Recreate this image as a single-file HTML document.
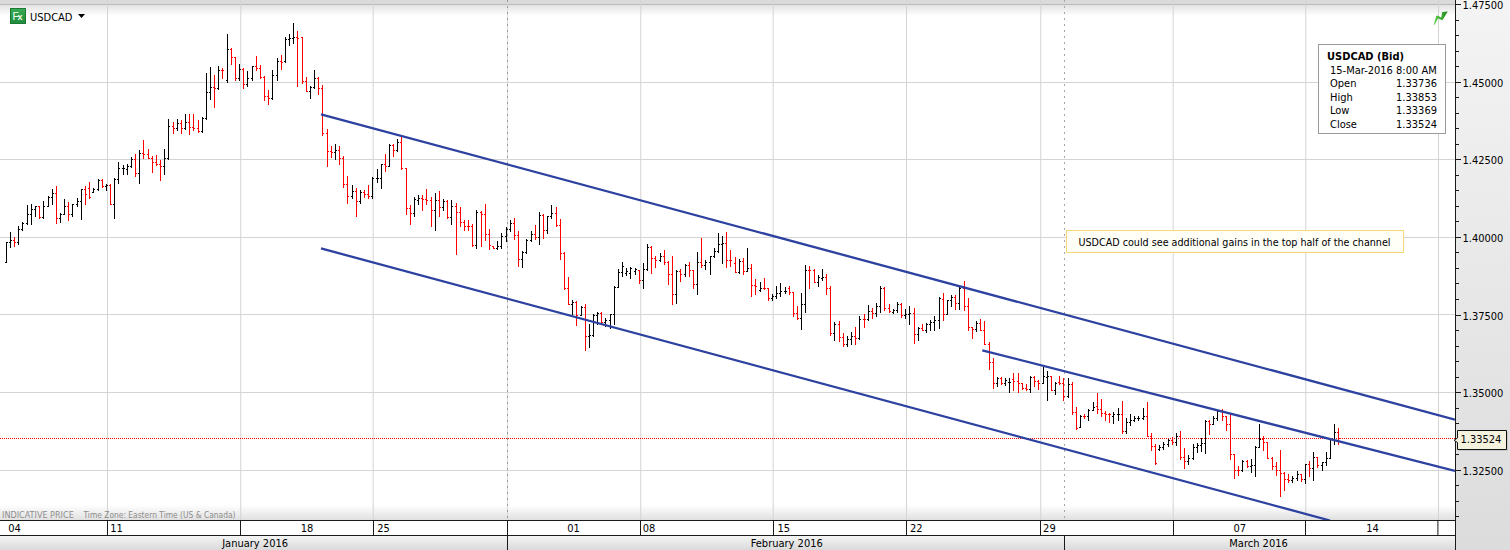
<!DOCTYPE html><html><head><meta charset="utf-8"><title>USDCAD</title><style>html,body{margin:0;padding:0;background:#fff;overflow:hidden;}svg{display:block;}</style></head><body><svg width="1510" height="550" viewBox="0 0 1510 550"><defs><linearGradient id="gtop" x1="0" y1="0" x2="0" y2="1"><stop offset="0" stop-color="#e3e3e3"/><stop offset="1" stop-color="#ffffff"/></linearGradient><linearGradient id="gbot" x1="0" y1="0" x2="0" y2="1"><stop offset="0" stop-color="#ffffff"/><stop offset="1" stop-color="#e0e0e0"/></linearGradient><linearGradient id="gaxis" x1="0" y1="0" x2="0" y2="1"><stop offset="0" stop-color="#f4f4f4"/><stop offset="1" stop-color="#dcdcdc"/></linearGradient><linearGradient id="gmonth" x1="0" y1="0" x2="0" y2="1"><stop offset="0" stop-color="#f4f4f4"/><stop offset="1" stop-color="#dadada"/></linearGradient><linearGradient id="gfx" x1="0" y1="0" x2="0" y2="1"><stop offset="0" stop-color="#3aab55"/><stop offset="1" stop-color="#1f8a3c"/></linearGradient><linearGradient id="gbolt" x1="0" y1="0" x2="1" y2="0"><stop offset="0" stop-color="#5fd04a"/><stop offset="1" stop-color="#1e8a1e"/></linearGradient><clipPath id="chartclip"><rect x="0" y="0" width="1455" height="520"/></clipPath></defs><rect x="0" y="0" width="1510" height="550" fill="#ffffff"/><rect x="0" y="0" width="1455" height="4" fill="#dadada"/><rect x="0" y="5" width="1455" height="11" fill="url(#gtop)"/><rect x="0" y="505" width="1455" height="15" fill="url(#gbot)"/><rect x="0" y="4" width="1455" height="1" fill="#b9b9b9"/><rect x="0" y="82" width="1455" height="1" fill="#d4d4d4"/><rect x="0" y="159" width="1455" height="1" fill="#d4d4d4"/><rect x="0" y="237" width="1455" height="1" fill="#d4d4d4"/><rect x="0" y="314" width="1455" height="1" fill="#d4d4d4"/><rect x="0" y="392" width="1455" height="1" fill="#d4d4d4"/><rect x="0" y="470" width="1455" height="1" fill="#d4d4d4"/><rect x="107" y="0" width="1" height="520" fill="#d4d4d4"/><rect x="240.25" y="0" width="1" height="520" fill="#d4d4d4"/><rect x="372.7" y="0" width="1" height="520" fill="#d4d4d4"/><rect x="640.25" y="0" width="1" height="520" fill="#d4d4d4"/><rect x="772.7" y="0" width="1" height="520" fill="#d4d4d4"/><rect x="906" y="0" width="1" height="520" fill="#d4d4d4"/><rect x="1040.25" y="0" width="1" height="520" fill="#d4d4d4"/><rect x="1172.7" y="0" width="1" height="520" fill="#d4d4d4"/><rect x="1305.25" y="0" width="1" height="520" fill="#d4d4d4"/><rect x="1438" y="0" width="1" height="520" fill="#d4d4d4"/><rect x="507" y="0" width="1" height="520" fill="#dadada"/><line x1="507.5" y1="0" x2="507.5" y2="520" stroke="#999999" stroke-width="1" stroke-dasharray="2 4"/><line x1="1064.5" y1="0" x2="1064.5" y2="520" stroke="#a6a6a6" stroke-width="1" stroke-dasharray="2 4"/><line x1="0" y1="438.5" x2="1455" y2="438.5" stroke="#ff0000" stroke-width="1" stroke-dasharray="1 1"/><path d="M6 242h1v21h-1z M5 262h1v1h-1z M7 242h1v1h-1z M10 232h1v16h-1z M9 242h1v1h-1z M11 240h1v1h-1z M18 226h1v19h-1z M17 242h1v1h-1z M19 229h1v1h-1z M22 222h1v9h-1z M21 229h1v1h-1z M23 223h1v1h-1z M27 205h1v20h-1z M26 223h1v1h-1z M28 214h1v1h-1z M31 204h1v21h-1z M30 214h1v1h-1z M32 209h1v1h-1z M35 206h1v11h-1z M34 209h1v1h-1z M36 206h1v1h-1z M43 201h1v18h-1z M42 217h1v1h-1z M44 206h1v1h-1z M48 196h1v11h-1z M47 206h1v1h-1z M49 197h1v1h-1z M52 189h1v16h-1z M51 197h1v1h-1z M53 193h1v1h-1z M60 213h1v10h-1z M59 218h1v1h-1z M61 214h1v1h-1z M64 199h1v16h-1z M63 214h1v1h-1z M65 206h1v1h-1z M72 204h1v13h-1z M71 214h1v1h-1z M73 204h1v1h-1z M77 198h1v9h-1z M76 204h1v1h-1z M78 201h1v1h-1z M81 189h1v31h-1z M80 201h1v1h-1z M82 189h1v1h-1z M93 188h1v5h-1z M92 192h1v1h-1z M94 189h1v1h-1z M98 179h1v12h-1z M97 189h1v1h-1z M99 180h1v1h-1z M106 184h1v7h-1z M105 186h1v1h-1z M107 185h1v1h-1z M114 178h1v41h-1z M113 204h1v1h-1z M115 179h1v1h-1z M118 162h1v22h-1z M117 179h1v1h-1z M119 168h1v1h-1z M123 165h1v10h-1z M122 168h1v1h-1z M124 168h1v1h-1z M127 164h1v11h-1z M126 169h1v1h-1z M128 166h1v1h-1z M131 157h1v11h-1z M130 166h1v1h-1z M132 159h1v1h-1z M139 150h1v34h-1z M138 173h1v1h-1z M140 153h1v1h-1z M164 149h1v26h-1z M163 166h1v1h-1z M165 158h1v1h-1z M168 119h1v41h-1z M167 158h1v1h-1z M169 126h1v1h-1z M177 119h1v12h-1z M176 128h1v1h-1z M178 123h1v1h-1z M185 114h1v16h-1z M184 128h1v1h-1z M186 122h1v1h-1z M202 117h1v16h-1z M201 131h1v1h-1z M203 118h1v1h-1z M206 73h1v47h-1z M205 118h1v1h-1z M207 92h1v1h-1z M210 67h1v33h-1z M209 92h1v1h-1z M211 87h1v1h-1z M218 66h1v24h-1z M217 88h1v1h-1z M219 70h1v1h-1z M227 34h1v49h-1z M226 80h1v1h-1z M228 49h1v1h-1z M239 64h1v17h-1z M238 78h1v1h-1z M240 69h1v1h-1z M247 71h1v16h-1z M246 84h1v1h-1z M248 78h1v1h-1z M252 66h1v15h-1z M251 78h1v1h-1z M253 66h1v1h-1z M272 70h1v30h-1z M271 98h1v1h-1z M273 75h1v1h-1z M277 58h1v23h-1z M276 75h1v1h-1z M278 61h1v1h-1z M285 37h1v26h-1z M284 61h1v1h-1z M286 39h1v1h-1z M289 34h1v12h-1z M288 39h1v1h-1z M290 38h1v1h-1z M293 23h1v21h-1z M292 38h1v1h-1z M294 37h1v1h-1z M310 86h1v13h-1z M309 91h1v1h-1z M311 87h1v1h-1z M314 70h1v19h-1z M313 87h1v1h-1z M315 78h1v1h-1z M335 144h1v16h-1z M334 152h1v1h-1z M336 150h1v1h-1z M352 185h1v14h-1z M351 196h1v1h-1z M353 191h1v1h-1z M360 190h1v14h-1z M359 201h1v1h-1z M361 192h1v1h-1z M372 177h1v22h-1z M371 196h1v1h-1z M373 178h1v1h-1z M377 169h1v14h-1z M376 178h1v1h-1z M378 178h1v1h-1z M381 164h1v25h-1z M380 178h1v1h-1z M382 164h1v1h-1z M389 144h1v23h-1z M388 166h1v1h-1z M390 145h1v1h-1z M397 139h1v13h-1z M396 150h1v1h-1z M398 142h1v1h-1z M414 197h1v20h-1z M413 213h1v1h-1z M415 199h1v1h-1z M418 195h1v10h-1z M417 200h1v1h-1z M419 198h1v1h-1z M435 193h1v38h-1z M434 210h1v1h-1z M436 200h1v1h-1z M443 199h1v12h-1z M442 207h1v1h-1z M444 201h1v1h-1z M451 200h1v25h-1z M450 217h1v1h-1z M452 206h1v1h-1z M476 210h1v39h-1z M475 245h1v1h-1z M477 212h1v1h-1z M497 241h1v9h-1z M496 248h1v1h-1z M498 246h1v1h-1z M501 233h1v16h-1z M500 246h1v1h-1z M502 236h1v1h-1z M506 227h1v15h-1z M505 236h1v1h-1z M507 229h1v1h-1z M510 220h1v12h-1z M509 229h1v1h-1z M511 223h1v1h-1z M522 251h1v17h-1z M521 259h1v1h-1z M523 252h1v1h-1z M526 239h1v15h-1z M525 252h1v1h-1z M527 240h1v1h-1z M531 231h1v11h-1z M530 240h1v1h-1z M532 234h1v1h-1z M539 212h1v33h-1z M538 237h1v1h-1z M540 215h1v1h-1z M547 216h1v18h-1z M546 230h1v1h-1z M548 216h1v1h-1z M551 205h1v14h-1z M550 216h1v1h-1z M552 213h1v1h-1z M572 300h1v15h-1z M571 304h1v1h-1z M573 302h1v1h-1z M581 306h1v10h-1z M580 315h1v1h-1z M582 307h1v1h-1z M589 324h1v24h-1z M588 336h1v1h-1z M590 335h1v1h-1z M593 314h1v23h-1z M592 335h1v1h-1z M594 315h1v1h-1z M597 312h1v13h-1z M596 315h1v1h-1z M598 313h1v1h-1z M605 318h1v9h-1z M604 322h1v1h-1z M606 320h1v1h-1z M610 314h1v15h-1z M609 320h1v1h-1z M611 314h1v1h-1z M614 286h1v39h-1z M613 314h1v1h-1z M615 287h1v1h-1z M618 269h1v19h-1z M617 287h1v1h-1z M619 272h1v1h-1z M622 262h1v15h-1z M621 272h1v1h-1z M623 266h1v1h-1z M626 268h1v8h-1z M625 273h1v1h-1z M627 271h1v1h-1z M630 267h1v12h-1z M629 273h1v1h-1z M631 268h1v1h-1z M635 268h1v7h-1z M634 271h1v1h-1z M636 269h1v1h-1z M643 263h1v26h-1z M642 280h1v1h-1z M644 269h1v1h-1z M647 244h1v27h-1z M646 269h1v1h-1z M648 247h1v1h-1z M660 253h1v9h-1z M659 260h1v1h-1z M661 256h1v1h-1z M676 270h1v34h-1z M675 294h1v1h-1z M677 271h1v1h-1z M685 264h1v13h-1z M684 274h1v1h-1z M686 265h1v1h-1z M697 252h1v43h-1z M696 284h1v1h-1z M698 262h1v1h-1z M705 260h1v10h-1z M704 265h1v1h-1z M706 262h1v1h-1z M710 256h1v19h-1z M709 262h1v1h-1z M711 256h1v1h-1z M714 248h1v10h-1z M713 256h1v1h-1z M715 251h1v1h-1z M718 233h1v20h-1z M717 251h1v1h-1z M719 244h1v1h-1z M722 236h1v28h-1z M721 244h1v1h-1z M723 243h1v1h-1z M739 259h1v15h-1z M738 272h1v1h-1z M740 261h1v1h-1z M747 248h1v24h-1z M746 271h1v1h-1z M748 268h1v1h-1z M760 282h1v10h-1z M759 290h1v1h-1z M761 288h1v1h-1z M772 294h1v7h-1z M771 298h1v1h-1z M773 296h1v1h-1z M776 286h1v13h-1z M775 296h1v1h-1z M777 293h1v1h-1z M780 283h1v14h-1z M779 293h1v1h-1z M781 291h1v1h-1z M785 287h1v7h-1z M784 291h1v1h-1z M786 291h1v1h-1z M801 293h1v37h-1z M800 318h1v1h-1z M802 304h1v1h-1z M805 265h1v48h-1z M804 304h1v1h-1z M806 270h1v1h-1z M818 275h1v12h-1z M817 282h1v1h-1z M819 277h1v1h-1z M822 269h1v12h-1z M821 278h1v1h-1z M823 277h1v1h-1z M834 322h1v19h-1z M833 333h1v1h-1z M835 324h1v1h-1z M847 336h1v11h-1z M846 344h1v1h-1z M848 339h1v1h-1z M851 332h1v13h-1z M850 339h1v1h-1z M852 336h1v1h-1z M859 316h1v24h-1z M858 338h1v1h-1z M860 319h1v1h-1z M868 305h1v16h-1z M867 319h1v1h-1z M869 311h1v1h-1z M876 303h1v14h-1z M875 313h1v1h-1z M877 306h1v1h-1z M880 286h1v27h-1z M879 306h1v1h-1z M881 288h1v1h-1z M893 309h1v5h-1z M892 312h1v1h-1z M894 310h1v1h-1z M897 302h1v11h-1z M896 310h1v1h-1z M898 304h1v1h-1z M905 309h1v10h-1z M904 315h1v1h-1z M906 314h1v1h-1z M909 306h1v19h-1z M908 314h1v1h-1z M910 313h1v1h-1z M918 327h1v14h-1z M917 334h1v1h-1z M919 328h1v1h-1z M926 323h1v10h-1z M925 330h1v1h-1z M927 324h1v1h-1z M930 320h1v11h-1z M929 324h1v1h-1z M931 322h1v1h-1z M934 316h1v15h-1z M933 322h1v1h-1z M935 320h1v1h-1z M939 297h1v32h-1z M938 320h1v1h-1z M940 298h1v1h-1z M947 300h1v15h-1z M946 314h1v1h-1z M948 300h1v1h-1z M951 295h1v12h-1z M950 300h1v1h-1z M952 297h1v1h-1z M959 287h1v23h-1z M958 303h1v1h-1z M960 288h1v1h-1z M976 321h1v11h-1z M975 329h1v1h-1z M977 323h1v1h-1z M997 377h1v10h-1z M996 383h1v1h-1z M998 378h1v1h-1z M1005 378h1v8h-1z M1004 383h1v1h-1z M1006 380h1v1h-1z M1009 378h1v15h-1z M1008 382h1v1h-1z M1010 382h1v1h-1z M1030 376h1v17h-1z M1029 389h1v1h-1z M1031 377h1v1h-1z M1043 367h1v17h-1z M1042 383h1v1h-1z M1044 376h1v1h-1z M1047 371h1v30h-1z M1046 377h1v1h-1z M1048 376h1v1h-1z M1055 382h1v13h-1z M1054 390h1v1h-1z M1056 383h1v1h-1z M1068 378h1v20h-1z M1067 396h1v1h-1z M1069 384h1v1h-1z M1080 415h1v13h-1z M1079 427h1v1h-1z M1081 416h1v1h-1z M1088 409h1v12h-1z M1087 416h1v1h-1z M1089 410h1v1h-1z M1093 402h1v9h-1z M1092 410h1v1h-1z M1094 407h1v1h-1z M1113 412h1v12h-1z M1112 416h1v1h-1z M1114 414h1v1h-1z M1118 408h1v13h-1z M1117 414h1v1h-1z M1119 414h1v1h-1z M1126 418h1v16h-1z M1125 431h1v1h-1z M1127 422h1v1h-1z M1130 414h1v12h-1z M1129 422h1v1h-1z M1131 420h1v1h-1z M1134 416h1v6h-1z M1133 420h1v1h-1z M1135 418h1v1h-1z M1138 416h1v5h-1z M1137 418h1v1h-1z M1139 418h1v1h-1z M1143 408h1v12h-1z M1142 418h1v1h-1z M1144 416h1v1h-1z M1159 445h1v6h-1z M1158 449h1v1h-1z M1160 447h1v1h-1z M1163 442h1v8h-1z M1162 447h1v1h-1z M1164 444h1v1h-1z M1168 439h1v8h-1z M1167 444h1v1h-1z M1169 440h1v1h-1z M1176 433h1v13h-1z M1175 442h1v1h-1z M1177 436h1v1h-1z M1188 455h1v10h-1z M1187 461h1v1h-1z M1189 458h1v1h-1z M1193 444h1v16h-1z M1192 458h1v1h-1z M1194 447h1v1h-1z M1197 443h1v10h-1z M1196 447h1v1h-1z M1198 445h1v1h-1z M1201 438h1v14h-1z M1200 445h1v1h-1z M1202 443h1v1h-1z M1205 420h1v34h-1z M1204 443h1v1h-1z M1206 421h1v1h-1z M1213 416h1v9h-1z M1212 424h1v1h-1z M1214 418h1v1h-1z M1217 410h1v11h-1z M1216 418h1v1h-1z M1218 411h1v1h-1z M1242 460h1v12h-1z M1241 470h1v1h-1z M1243 461h1v1h-1z M1251 459h1v14h-1z M1250 466h1v1h-1z M1252 465h1v1h-1z M1255 446h1v31h-1z M1254 465h1v1h-1z M1256 447h1v1h-1z M1259 424h1v24h-1z M1258 447h1v1h-1z M1260 439h1v1h-1z M1292 476h1v7h-1z M1291 480h1v1h-1z M1293 478h1v1h-1z M1297 471h1v10h-1z M1296 478h1v1h-1z M1298 474h1v1h-1z M1305 464h1v20h-1z M1304 479h1v1h-1z M1306 464h1v1h-1z M1313 452h1v29h-1z M1312 468h1v1h-1z M1314 457h1v1h-1z M1322 462h1v9h-1z M1321 465h1v1h-1z M1323 462h1v1h-1z M1326 452h1v14h-1z M1325 462h1v1h-1z M1327 458h1v1h-1z M1330 439h1v20h-1z M1329 458h1v1h-1z M1331 439h1v1h-1z M1334 424h1v21h-1z M1333 439h1v1h-1z M1335 432h1v1h-1z" fill="#000000" shape-rendering="crispEdges"/><path d="M14 237h1v10h-1z M13 240h1v1h-1z M15 242h1v1h-1z M39 206h1v13h-1z M38 206h1v1h-1z M40 217h1v1h-1z M56 186h1v38h-1z M55 193h1v1h-1z M57 218h1v1h-1z M68 202h1v19h-1z M67 206h1v1h-1z M69 214h1v1h-1z M85 186h1v19h-1z M84 189h1v1h-1z M86 194h1v1h-1z M89 182h1v17h-1z M88 188h1v1h-1z M90 197h1v1h-1z M102 179h1v9h-1z M101 180h1v1h-1z M103 186h1v1h-1z M110 184h1v21h-1z M109 185h1v1h-1z M111 204h1v1h-1z M135 154h1v23h-1z M134 159h1v1h-1z M136 173h1v1h-1z M143 140h1v19h-1z M142 153h1v1h-1z M144 154h1v1h-1z M148 149h1v10h-1z M147 154h1v1h-1z M149 158h1v1h-1z M152 156h1v17h-1z M151 158h1v1h-1z M153 162h1v1h-1z M156 155h1v11h-1z M155 162h1v1h-1z M157 164h1v1h-1z M160 160h1v21h-1z M159 164h1v1h-1z M161 166h1v1h-1z M173 122h1v12h-1z M172 126h1v1h-1z M174 128h1v1h-1z M181 120h1v14h-1z M180 123h1v1h-1z M182 128h1v1h-1z M189 114h1v21h-1z M188 122h1v1h-1z M190 127h1v1h-1z M193 114h1v17h-1z M192 127h1v1h-1z M194 128h1v1h-1z M198 120h1v13h-1z M197 128h1v1h-1z M199 131h1v1h-1z M214 75h1v33h-1z M213 87h1v1h-1z M215 88h1v1h-1z M222 68h1v11h-1z M221 70h1v1h-1z M223 70h1v1h-1z M231 48h1v17h-1z M230 49h1v1h-1z M232 57h1v1h-1z M235 57h1v24h-1z M234 57h1v1h-1z M236 78h1v1h-1z M243 68h1v21h-1z M242 69h1v1h-1z M244 84h1v1h-1z M256 56h1v15h-1z M255 66h1v1h-1z M257 68h1v1h-1z M260 65h1v14h-1z M259 68h1v1h-1z M261 77h1v1h-1z M264 76h1v25h-1z M263 77h1v1h-1z M265 96h1v1h-1z M268 90h1v15h-1z M267 96h1v1h-1z M269 98h1v1h-1z M281 55h1v15h-1z M280 61h1v1h-1z M282 62h1v1h-1z M297 31h1v56h-1z M296 37h1v1h-1z M298 38h1v1h-1z M302 37h1v47h-1z M301 37h1v1h-1z M303 81h1v1h-1z M306 77h1v15h-1z M305 81h1v1h-1z M307 91h1v1h-1z M318 77h1v18h-1z M317 78h1v1h-1z M319 88h1v1h-1z M322 85h1v51h-1z M321 88h1v1h-1z M323 133h1v1h-1z M327 129h1v38h-1z M326 133h1v1h-1z M328 151h1v1h-1z M331 146h1v12h-1z M330 151h1v1h-1z M332 152h1v1h-1z M339 146h1v19h-1z M338 150h1v1h-1z M340 158h1v1h-1z M343 156h1v32h-1z M342 158h1v1h-1z M344 184h1v1h-1z M347 176h1v28h-1z M346 184h1v1h-1z M348 196h1v1h-1z M356 188h1v29h-1z M355 191h1v1h-1z M357 201h1v1h-1z M364 190h1v8h-1z M363 192h1v1h-1z M365 194h1v1h-1z M368 185h1v14h-1z M367 194h1v1h-1z M369 196h1v1h-1z M385 154h1v18h-1z M384 164h1v1h-1z M386 166h1v1h-1z M393 144h1v13h-1z M392 145h1v1h-1z M394 150h1v1h-1z M401 137h1v33h-1z M400 142h1v1h-1z M402 168h1v1h-1z M406 168h1v47h-1z M405 168h1v1h-1z M407 208h1v1h-1z M410 205h1v20h-1z M409 208h1v1h-1z M411 213h1v1h-1z M422 195h1v16h-1z M421 198h1v1h-1z M423 199h1v1h-1z M426 189h1v16h-1z M425 199h1v1h-1z M427 200h1v1h-1z M431 197h1v30h-1z M430 200h1v1h-1z M432 210h1v1h-1z M439 191h1v26h-1z M438 200h1v1h-1z M440 207h1v1h-1z M447 200h1v19h-1z M446 201h1v1h-1z M448 217h1v1h-1z M456 203h1v52h-1z M455 206h1v1h-1z M457 212h1v1h-1z M460 207h1v20h-1z M459 212h1v1h-1z M461 222h1v1h-1z M464 220h1v11h-1z M463 222h1v1h-1z M465 226h1v1h-1z M468 220h1v11h-1z M467 226h1v1h-1z M469 226h1v1h-1z M472 224h1v23h-1z M471 226h1v1h-1z M473 245h1v1h-1z M481 211h1v36h-1z M480 212h1v1h-1z M482 214h1v1h-1z M485 204h1v37h-1z M484 214h1v1h-1z M486 234h1v1h-1z M489 229h1v21h-1z M488 234h1v1h-1z M490 245h1v1h-1z M493 246h1v3h-1z M492 246h1v1h-1z M494 248h1v1h-1z M514 218h1v22h-1z M513 223h1v1h-1z M515 235h1v1h-1z M518 231h1v36h-1z M517 235h1v1h-1z M519 259h1v1h-1z M535 225h1v15h-1z M534 234h1v1h-1z M536 237h1v1h-1z M543 214h1v25h-1z M542 215h1v1h-1z M544 230h1v1h-1z M556 207h1v20h-1z M555 213h1v1h-1z M557 225h1v1h-1z M560 219h1v41h-1z M559 225h1v1h-1z M561 253h1v1h-1z M564 252h1v38h-1z M563 253h1v1h-1z M565 288h1v1h-1z M568 277h1v28h-1z M567 288h1v1h-1z M569 304h1v1h-1z M576 301h1v25h-1z M575 302h1v1h-1z M577 315h1v1h-1z M585 304h1v47h-1z M584 307h1v1h-1z M586 336h1v1h-1z M601 312h1v12h-1z M600 313h1v1h-1z M602 322h1v1h-1z M639 270h1v14h-1z M638 270h1v1h-1z M640 280h1v1h-1z M651 246h1v28h-1z M650 247h1v1h-1z M652 258h1v1h-1z M655 256h1v12h-1z M654 258h1v1h-1z M656 260h1v1h-1z M664 250h1v15h-1z M663 256h1v1h-1z M665 262h1v1h-1z M668 261h1v24h-1z M667 262h1v1h-1z M669 274h1v1h-1z M672 256h1v49h-1z M671 274h1v1h-1z M673 294h1v1h-1z M680 269h1v13h-1z M679 271h1v1h-1z M681 274h1v1h-1z M689 262h1v15h-1z M688 265h1v1h-1z M690 270h1v1h-1z M693 270h1v19h-1z M692 270h1v1h-1z M694 284h1v1h-1z M701 238h1v30h-1z M700 262h1v1h-1z M702 265h1v1h-1z M726 232h1v36h-1z M725 243h1v1h-1z M727 260h1v1h-1z M730 250h1v17h-1z M729 260h1v1h-1z M731 260h1v1h-1z M735 257h1v16h-1z M734 263h1v1h-1z M736 272h1v1h-1z M743 258h1v17h-1z M742 261h1v1h-1z M744 271h1v1h-1z M751 264h1v33h-1z M750 268h1v1h-1z M752 285h1v1h-1z M755 279h1v16h-1z M754 285h1v1h-1z M756 286h1v1h-1z M764 278h1v12h-1z M763 288h1v1h-1z M765 288h1v1h-1z M768 288h1v13h-1z M767 288h1v1h-1z M769 298h1v1h-1z M789 286h1v9h-1z M788 288h1v1h-1z M790 292h1v1h-1z M793 292h1v25h-1z M792 292h1v1h-1z M794 313h1v1h-1z M797 306h1v14h-1z M796 313h1v1h-1z M798 318h1v1h-1z M809 266h1v23h-1z M808 270h1v1h-1z M810 270h1v1h-1z M814 269h1v14h-1z M813 270h1v1h-1z M815 282h1v1h-1z M826 274h1v21h-1z M825 277h1v1h-1z M827 288h1v1h-1z M830 286h1v50h-1z M829 288h1v1h-1z M831 333h1v1h-1z M839 321h1v21h-1z M838 324h1v1h-1z M840 337h1v1h-1z M843 333h1v14h-1z M842 337h1v1h-1z M844 344h1v1h-1z M855 327h1v18h-1z M854 336h1v1h-1z M856 338h1v1h-1z M864 314h1v14h-1z M863 319h1v1h-1z M865 319h1v1h-1z M872 308h1v11h-1z M871 311h1v1h-1z M873 313h1v1h-1z M884 287h1v24h-1z M883 288h1v1h-1z M885 308h1v1h-1z M889 304h1v9h-1z M888 308h1v1h-1z M890 311h1v1h-1z M901 303h1v15h-1z M900 304h1v1h-1z M902 315h1v1h-1z M914 308h1v36h-1z M913 313h1v1h-1z M915 334h1v1h-1z M922 324h1v7h-1z M921 328h1v1h-1z M923 330h1v1h-1z M943 293h1v28h-1z M942 299h1v1h-1z M944 314h1v1h-1z M955 295h1v15h-1z M954 297h1v1h-1z M956 303h1v1h-1z M964 281h1v30h-1z M963 288h1v1h-1z M965 306h1v1h-1z M968 298h1v33h-1z M967 306h1v1h-1z M969 327h1v1h-1z M972 327h1v12h-1z M971 327h1v1h-1z M973 329h1v1h-1z M980 319h1v12h-1z M979 323h1v1h-1z M981 330h1v1h-1z M984 321h1v24h-1z M983 330h1v1h-1z M985 344h1v1h-1z M989 342h1v28h-1z M988 344h1v1h-1z M990 362h1v1h-1z M993 358h1v31h-1z M992 362h1v1h-1z M994 383h1v1h-1z M1001 377h1v8h-1z M1000 378h1v1h-1z M1002 383h1v1h-1z M1013 373h1v18h-1z M1012 379h1v1h-1z M1014 381h1v1h-1z M1018 373h1v20h-1z M1017 381h1v1h-1z M1019 383h1v1h-1z M1022 383h1v7h-1z M1021 383h1v1h-1z M1023 388h1v1h-1z M1026 384h1v7h-1z M1025 388h1v1h-1z M1027 389h1v1h-1z M1034 376h1v11h-1z M1033 377h1v1h-1z M1035 381h1v1h-1z M1038 380h1v10h-1z M1037 381h1v1h-1z M1039 383h1v1h-1z M1051 376h1v15h-1z M1050 376h1v1h-1z M1052 390h1v1h-1z M1059 376h1v9h-1z M1058 382h1v1h-1z M1060 383h1v1h-1z M1063 378h1v23h-1z M1062 383h1v1h-1z M1064 396h1v1h-1z M1072 382h1v33h-1z M1071 384h1v1h-1z M1073 412h1v1h-1z M1076 407h1v23h-1z M1075 412h1v1h-1z M1077 428h1v1h-1z M1084 414h1v5h-1z M1083 416h1v1h-1z M1085 416h1v1h-1z M1097 393h1v21h-1z M1096 406h1v1h-1z M1098 409h1v1h-1z M1101 399h1v18h-1z M1100 409h1v1h-1z M1102 413h1v1h-1z M1105 411h1v10h-1z M1104 413h1v1h-1z M1106 414h1v1h-1z M1109 413h1v10h-1z M1108 414h1v1h-1z M1110 414h1v1h-1z M1122 401h1v33h-1z M1121 414h1v1h-1z M1123 431h1v1h-1z M1147 402h1v35h-1z M1146 416h1v1h-1z M1148 436h1v1h-1z M1151 433h1v18h-1z M1150 436h1v1h-1z M1152 446h1v1h-1z M1155 444h1v21h-1z M1154 446h1v1h-1z M1156 463h1v1h-1z M1172 437h1v8h-1z M1171 440h1v1h-1z M1173 442h1v1h-1z M1180 431h1v29h-1z M1179 436h1v1h-1z M1181 457h1v1h-1z M1184 448h1v21h-1z M1183 457h1v1h-1z M1185 461h1v1h-1z M1209 420h1v15h-1z M1208 421h1v1h-1z M1210 424h1v1h-1z M1222 409h1v12h-1z M1221 411h1v1h-1z M1223 416h1v1h-1z M1226 416h1v15h-1z M1225 416h1v1h-1z M1227 424h1v1h-1z M1230 413h1v47h-1z M1229 424h1v1h-1z M1231 454h1v1h-1z M1234 454h1v25h-1z M1233 454h1v1h-1z M1235 470h1v1h-1z M1238 466h1v10h-1z M1237 470h1v1h-1z M1239 470h1v1h-1z M1247 460h1v8h-1z M1246 461h1v1h-1z M1248 466h1v1h-1z M1263 436h1v15h-1z M1262 439h1v1h-1z M1264 442h1v1h-1z M1267 442h1v17h-1z M1266 442h1v1h-1z M1268 458h1v1h-1z M1272 457h1v13h-1z M1271 458h1v1h-1z M1273 466h1v1h-1z M1276 462h1v14h-1z M1275 466h1v1h-1z M1277 470h1v1h-1z M1280 450h1v47h-1z M1279 470h1v1h-1z M1281 473h1v1h-1z M1284 472h1v19h-1z M1283 473h1v1h-1z M1285 479h1v1h-1z M1288 474h1v9h-1z M1287 479h1v1h-1z M1289 480h1v1h-1z M1301 474h1v8h-1z M1300 474h1v1h-1z M1302 479h1v1h-1z M1309 461h1v16h-1z M1308 464h1v1h-1z M1310 468h1v1h-1z M1317 457h1v11h-1z M1316 457h1v1h-1z M1318 465h1v1h-1z M1338 428h1v17h-1z M1337 432h1v1h-1z M1339 438h1v1h-1z" fill="#ff0000" shape-rendering="crispEdges"/><g stroke="#2c41a0" stroke-width="2.3" stroke-linecap="butt" fill="none" clip-path="url(#chartclip)"><line x1="321" y1="114.3" x2="1455" y2="419.6"/><line x1="321" y1="248.4" x2="1330" y2="520.5"/><line x1="982.3" y1="350.3" x2="1455" y2="471"/></g><rect x="10" y="8" width="16" height="16" fill="url(#gfx)"/><rect x="10.5" y="8.5" width="15" height="15" fill="none" stroke="#1b7a35" stroke-width="1"/><text x="12.4" y="19.7" font-family="Liberation Sans, sans-serif" font-size="10.5" fill="#f4fff4">F</text><text x="17.5" y="19.8" font-family="Liberation Sans, sans-serif" font-size="9" font-weight="bold" fill="#eaffea">x</text><text x="30" y="21" font-family="DejaVu Sans Condensed, DejaVu Sans, sans-serif" font-size="11" fill="#000">USDCAD</text><path d="M78 14h7l-3.5 4z" fill="#000"/><path d="M1433.8 24.8 L1436.2 16 L1437.4 15.6 L1441.3 17.6 L1442.2 12 L1447.8 11.4 L1442.4 20.3 L1438 18.6 L1434.6 24.8 Z" fill="url(#gbolt)"/><rect x="1318.5" y="44.5" width="127" height="89" fill="#ffffff" stroke="#9a9a9a" stroke-width="1"/><text x="1327" y="60" font-family="DejaVu Sans Condensed, DejaVu Sans, sans-serif" font-size="11" fill="#000" font-weight="bold">USDCAD (Bid)</text><text x="1330" y="74" font-family="DejaVu Sans Condensed, DejaVu Sans, sans-serif" font-size="11" fill="#000">15-Mar-2016 8:00 AM</text><text x="1330" y="87.3" font-family="DejaVu Sans Condensed, DejaVu Sans, sans-serif" font-size="11" fill="#000">Open</text><text x="1437" y="87.3" font-family="DejaVu Sans Condensed, DejaVu Sans, sans-serif" font-size="11" fill="#000" text-anchor="end">1.33736</text><text x="1330" y="100.8" font-family="DejaVu Sans Condensed, DejaVu Sans, sans-serif" font-size="11" fill="#000">High</text><text x="1437" y="100.8" font-family="DejaVu Sans Condensed, DejaVu Sans, sans-serif" font-size="11" fill="#000" text-anchor="end">1.33853</text><text x="1330" y="114" font-family="DejaVu Sans Condensed, DejaVu Sans, sans-serif" font-size="11" fill="#000">Low</text><text x="1437" y="114" font-family="DejaVu Sans Condensed, DejaVu Sans, sans-serif" font-size="11" fill="#000" text-anchor="end">1.33369</text><text x="1330" y="127.6" font-family="DejaVu Sans Condensed, DejaVu Sans, sans-serif" font-size="11" fill="#000">Close</text><text x="1437" y="127.6" font-family="DejaVu Sans Condensed, DejaVu Sans, sans-serif" font-size="11" fill="#000" text-anchor="end">1.33524</text><rect x="1066.5" y="230.5" width="337" height="22" fill="#fffff8" stroke="#f7d878" stroke-width="1"/><text x="1078.5" y="246" font-family="DejaVu Sans Condensed, DejaVu Sans, sans-serif" font-size="11" fill="#000" textLength="312" lengthAdjust="spacingAndGlyphs">USDCAD could see additional gains in the top half of the channel</text><text x="2" y="517.7" font-family="DejaVu Sans Condensed, DejaVu Sans, sans-serif" font-size="9" fill="#8c8c8c">INDICATIVE PRICE</text><text x="83.5" y="517.7" font-family="DejaVu Sans Condensed, DejaVu Sans, sans-serif" font-size="9" fill="#8c8c8c" textLength="152" lengthAdjust="spacingAndGlyphs">Time Zone: Eastern Time (US &amp; Canada)</text><rect x="0" y="521" width="1455" height="14" fill="#ffffff"/><rect x="0" y="536" width="1455" height="14" fill="url(#gmonth)"/><rect x="0" y="520" width="1456" height="1" fill="#1a1a1a"/><rect x="0" y="535" width="1456" height="1" fill="#1a1a1a"/><rect x="107" y="520" width="1" height="15" fill="#1a1a1a"/><rect x="240" y="520" width="1" height="15" fill="#1a1a1a"/><rect x="373" y="520" width="1" height="15" fill="#1a1a1a"/><rect x="507" y="520" width="1" height="15" fill="#1a1a1a"/><rect x="640" y="520" width="1" height="15" fill="#1a1a1a"/><rect x="773" y="520" width="1" height="15" fill="#1a1a1a"/><rect x="906" y="520" width="1" height="15" fill="#1a1a1a"/><rect x="1040" y="520" width="1" height="15" fill="#1a1a1a"/><rect x="1173" y="520" width="1" height="15" fill="#1a1a1a"/><rect x="1305" y="520" width="1" height="15" fill="#1a1a1a"/><rect x="1437.4" y="520" width="1" height="15" fill="#1a1a1a"/><rect x="507" y="535" width="1" height="15" fill="#1a1a1a"/><rect x="1064" y="535" width="1" height="15" fill="#1a1a1a"/><text x="8.2" y="532" font-family="DejaVu Sans Condensed, DejaVu Sans, sans-serif" font-size="11" fill="#000">04</text><text x="110.3" y="532" font-family="DejaVu Sans Condensed, DejaVu Sans, sans-serif" font-size="11" fill="#000">11</text><text x="300.7" y="532" font-family="DejaVu Sans Condensed, DejaVu Sans, sans-serif" font-size="11" fill="#000">18</text><text x="377.2" y="532" font-family="DejaVu Sans Condensed, DejaVu Sans, sans-serif" font-size="11" fill="#000">25</text><text x="567.2" y="532" font-family="DejaVu Sans Condensed, DejaVu Sans, sans-serif" font-size="11" fill="#000">01</text><text x="642.7" y="532" font-family="DejaVu Sans Condensed, DejaVu Sans, sans-serif" font-size="11" fill="#000">08</text><text x="777.5" y="532" font-family="DejaVu Sans Condensed, DejaVu Sans, sans-serif" font-size="11" fill="#000">15</text><text x="910" y="532" font-family="DejaVu Sans Condensed, DejaVu Sans, sans-serif" font-size="11" fill="#000">22</text><text x="1043.1" y="532" font-family="DejaVu Sans Condensed, DejaVu Sans, sans-serif" font-size="11" fill="#000">29</text><text x="1233.4" y="532" font-family="DejaVu Sans Condensed, DejaVu Sans, sans-serif" font-size="11" fill="#000">07</text><text x="1366.3" y="532" font-family="DejaVu Sans Condensed, DejaVu Sans, sans-serif" font-size="11" fill="#000">14</text><text x="222.2" y="547" font-family="DejaVu Sans Condensed, DejaVu Sans, sans-serif" font-size="11" fill="#000">January 2016</text><text x="750.7" y="547" font-family="DejaVu Sans Condensed, DejaVu Sans, sans-serif" font-size="11" fill="#000">February 2016</text><text x="1229.3" y="547" font-family="DejaVu Sans Condensed, DejaVu Sans, sans-serif" font-size="11" fill="#000">March 2016</text><rect x="1456" y="0" width="54" height="550" fill="url(#gaxis)"/><rect x="1455" y="0" width="1" height="550" fill="#1a1a1a"/><rect x="1456" y="4" width="5" height="1" fill="#1a1a1a"/><text x="1462.5" y="8.5" font-family="DejaVu Sans Condensed, DejaVu Sans, sans-serif" font-size="11" fill="#000">1.47500</text><rect x="1456" y="20" width="3" height="1" fill="#1a1a1a"/><rect x="1456" y="35" width="3" height="1" fill="#1a1a1a"/><rect x="1456" y="51" width="3" height="1" fill="#1a1a1a"/><rect x="1456" y="66" width="3" height="1" fill="#1a1a1a"/><rect x="1456" y="82" width="5" height="1" fill="#1a1a1a"/><text x="1462.5" y="86.5" font-family="DejaVu Sans Condensed, DejaVu Sans, sans-serif" font-size="11" fill="#000">1.45000</text><rect x="1456" y="97" width="3" height="1" fill="#1a1a1a"/><rect x="1456" y="113" width="3" height="1" fill="#1a1a1a"/><rect x="1456" y="128" width="3" height="1" fill="#1a1a1a"/><rect x="1456" y="144" width="3" height="1" fill="#1a1a1a"/><rect x="1456" y="159" width="5" height="1" fill="#1a1a1a"/><text x="1462.5" y="163.5" font-family="DejaVu Sans Condensed, DejaVu Sans, sans-serif" font-size="11" fill="#000">1.42500</text><rect x="1456" y="175" width="3" height="1" fill="#1a1a1a"/><rect x="1456" y="190" width="3" height="1" fill="#1a1a1a"/><rect x="1456" y="206" width="3" height="1" fill="#1a1a1a"/><rect x="1456" y="221" width="3" height="1" fill="#1a1a1a"/><rect x="1456" y="237" width="5" height="1" fill="#1a1a1a"/><text x="1462.5" y="241.5" font-family="DejaVu Sans Condensed, DejaVu Sans, sans-serif" font-size="11" fill="#000">1.40000</text><rect x="1456" y="252" width="3" height="1" fill="#1a1a1a"/><rect x="1456" y="268" width="3" height="1" fill="#1a1a1a"/><rect x="1456" y="283" width="3" height="1" fill="#1a1a1a"/><rect x="1456" y="299" width="3" height="1" fill="#1a1a1a"/><rect x="1456" y="315" width="5" height="1" fill="#1a1a1a"/><text x="1462.5" y="319.5" font-family="DejaVu Sans Condensed, DejaVu Sans, sans-serif" font-size="11" fill="#000">1.37500</text><rect x="1456" y="330" width="3" height="1" fill="#1a1a1a"/><rect x="1456" y="346" width="3" height="1" fill="#1a1a1a"/><rect x="1456" y="361" width="3" height="1" fill="#1a1a1a"/><rect x="1456" y="377" width="3" height="1" fill="#1a1a1a"/><rect x="1456" y="392" width="5" height="1" fill="#1a1a1a"/><text x="1462.5" y="396.5" font-family="DejaVu Sans Condensed, DejaVu Sans, sans-serif" font-size="11" fill="#000">1.35000</text><rect x="1456" y="408" width="3" height="1" fill="#1a1a1a"/><rect x="1456" y="423" width="3" height="1" fill="#1a1a1a"/><rect x="1456" y="439" width="3" height="1" fill="#1a1a1a"/><rect x="1456" y="454" width="3" height="1" fill="#1a1a1a"/><rect x="1456" y="470" width="5" height="1" fill="#1a1a1a"/><text x="1462.5" y="474.5" font-family="DejaVu Sans Condensed, DejaVu Sans, sans-serif" font-size="11" fill="#000">1.32500</text><rect x="1456" y="485" width="3" height="1" fill="#1a1a1a"/><rect x="1456" y="501" width="3" height="1" fill="#1a1a1a"/><rect x="1456" y="516" width="3" height="1" fill="#1a1a1a"/><rect x="1459" y="432" width="49" height="19" fill="#b8b8b8" opacity="0.6"/><path d="M1457.5 430.5 H1506.5 V449.5 H1457.5 V442.5 L1454 440.3 L1457.5 438 Z" fill="#f4f2dc" stroke="#111" stroke-width="1"/><text x="1460.5" y="443.2" font-family="DejaVu Sans Condensed, DejaVu Sans, sans-serif" font-size="11" fill="#000">1.33524</text></svg></body></html>
